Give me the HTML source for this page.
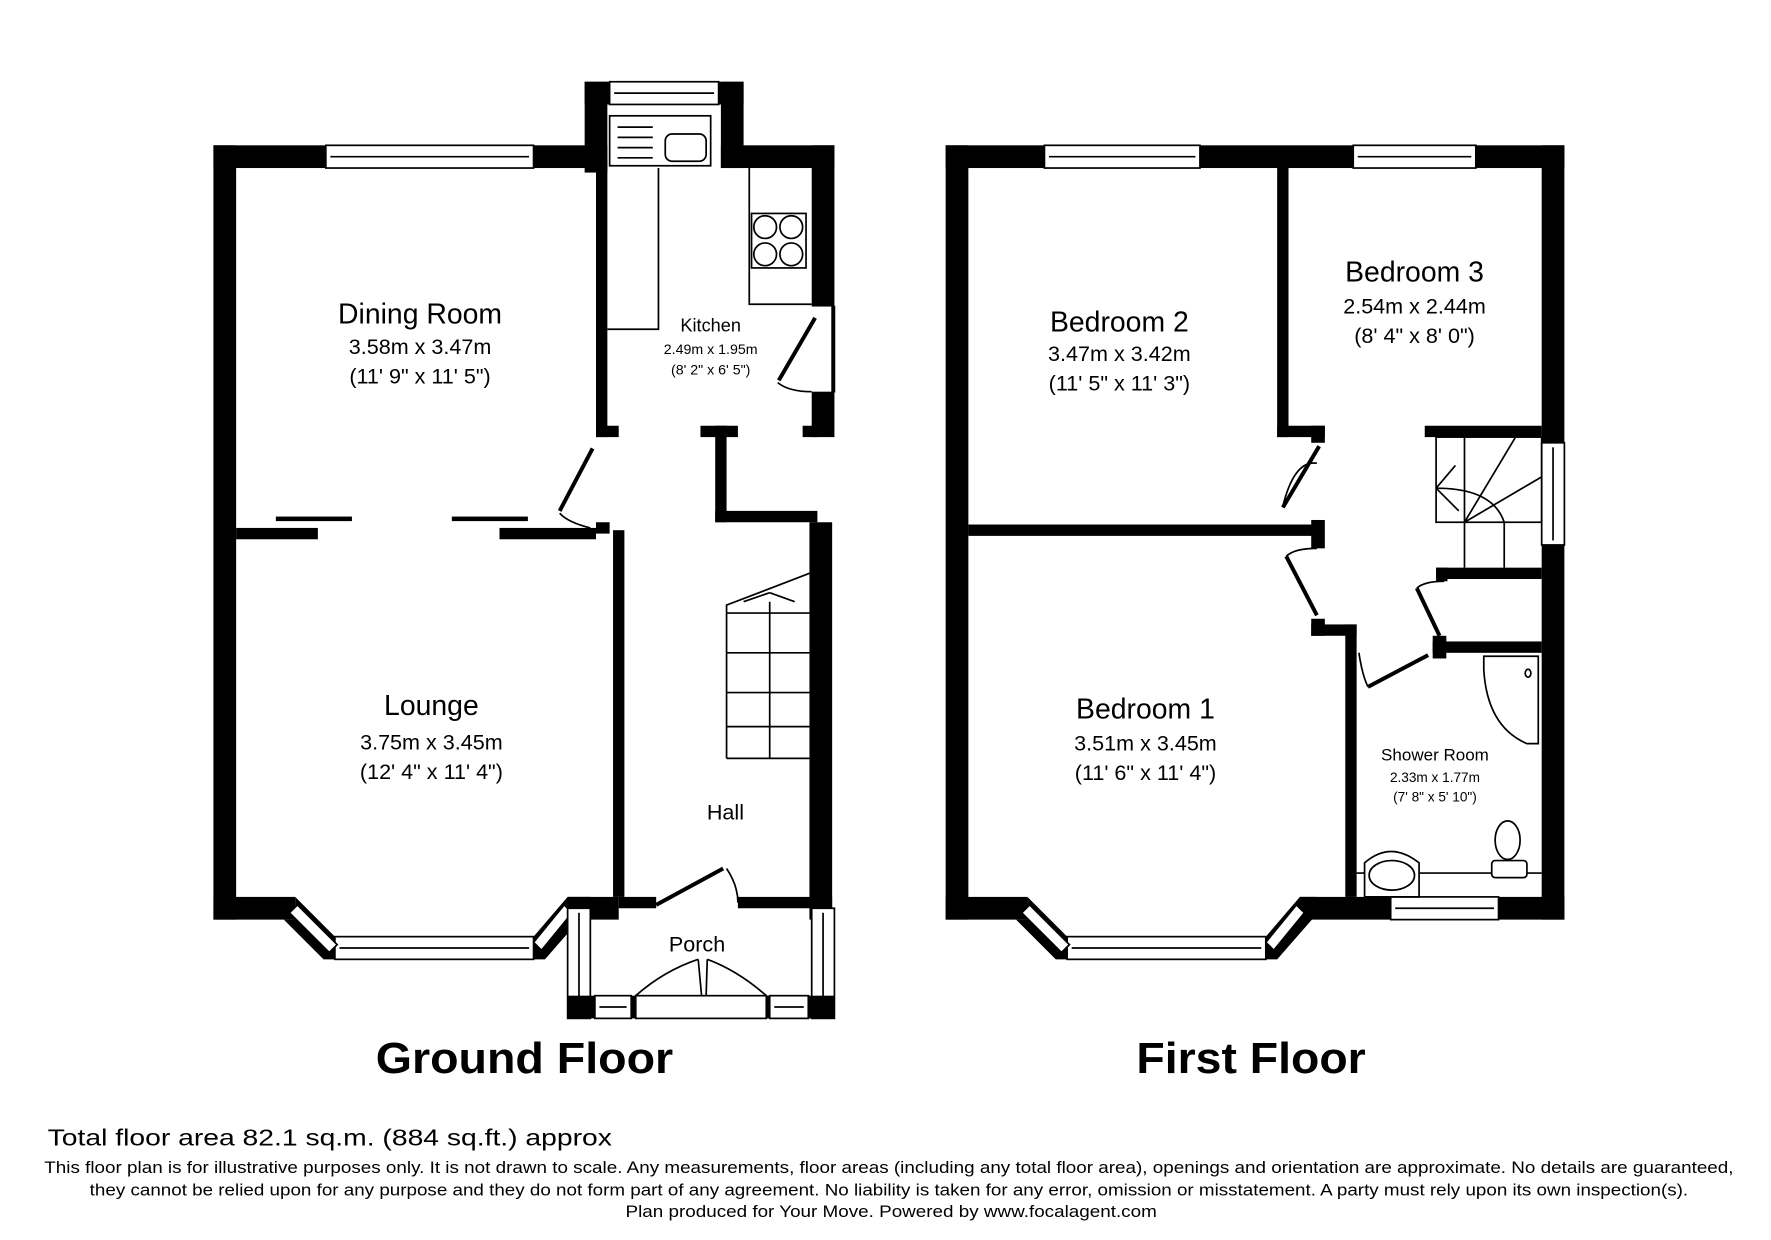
<!DOCTYPE html>
<html><head><meta charset="utf-8"><style>
html,body{margin:0;padding:0;background:#fff;}
svg{display:block;}
text{font-family:"Liberation Sans",sans-serif;fill:#000;}
</style></head><body>
<svg width="1771" height="1240" viewBox="0 0 1560 1092.2" preserveAspectRatio="none" xmlns="http://www.w3.org/2000/svg">
<rect width="1560" height="1092.2" fill="#fff"/>
<g fill="#000" stroke="none">
<!-- GROUND FLOOR walls -->
<rect x="188" y="128" width="20" height="682"/>
<rect x="188" y="128" width="347" height="20"/>
<rect x="515" y="72" width="20" height="80"/>
<rect x="515" y="72" width="140" height="20"/>
<rect x="635" y="72" width="20" height="76"/>
<rect x="635" y="128" width="100" height="20"/>
<rect x="715" y="128" width="20" height="142"/>
<rect x="715" y="345" width="20" height="40"/>
<rect x="713" y="460" width="20" height="350"/>
<rect x="525" y="140" width="10" height="245"/>
<rect x="525" y="375" width="20" height="10"/>
<rect x="617" y="375" width="33" height="10"/>
<rect x="630" y="375" width="10" height="85"/>
<rect x="630" y="450" width="90" height="10"/>
<rect x="707" y="375" width="13" height="10"/>
<rect x="208" y="465" width="72" height="10"/>
<rect x="440" y="465" width="85" height="10"/>
<rect x="525" y="460" width="12" height="10"/>
<rect x="540" y="467" width="10" height="323"/>
<rect x="188" y="790" width="72" height="20"/>
<rect x="500" y="790" width="45" height="20"/>
<rect x="545" y="790" width="33" height="10"/>
<rect x="650" y="790" width="83" height="10"/>
<rect x="243" y="455" width="67" height="4"/>
<rect x="398" y="455" width="67" height="4"/>
<!-- FIRST FLOOR walls -->
<rect x="833" y="128" width="20" height="682"/>
<rect x="833" y="128" width="545" height="20"/>
<rect x="1358" y="128" width="20" height="682"/>
<rect x="1125" y="140" width="10" height="245"/>
<rect x="1125" y="375" width="42" height="10"/>
<rect x="1155" y="375" width="12" height="15"/>
<rect x="1255" y="375" width="103" height="10"/>
<rect x="853" y="462" width="312" height="10"/>
<rect x="1155" y="458" width="12" height="25"/>
<rect x="1155" y="545" width="12" height="15"/>
<rect x="1155" y="550" width="40" height="10"/>
<rect x="1185" y="550" width="10" height="240"/>
<rect x="1265" y="500" width="93" height="10"/>
<rect x="1262" y="565" width="96" height="10"/>
<rect x="1262" y="560" width="12" height="20"/>
<rect x="1265" y="500" width="10" height="12"/>
<rect x="833" y="790" width="72" height="20"/>
<rect x="1145" y="790" width="233" height="20"/>
</g>
<!-- bays -->
<g fill="#000">
<polygon points="260,790 295,825 295,845 285,845 250,810 260,810"/>
<polygon points="500,790 470,825 470,845 480,845 515,805 520,790"/>
<polygon points="905,790 940,825 940,845 930,845 895,810 905,810"/>
<polygon points="1145,790 1115,825 1115,845 1125,845 1160,805 1160,790"/>
</g>
<g fill="#fff" stroke="#000" stroke-width="1.5">
<!-- windows -->
<rect x="287" y="128" width="183" height="20"/><line x1="291" y1="138" x2="466" y2="138"/>
<rect x="537" y="72" width="96" height="20"/><line x1="541" y1="82" x2="629" y2="82"/>
<rect x="295" y="825" width="175" height="20"/><line x1="299" y1="835" x2="466" y2="835"/>
<polygon points="262,797 297,832 290,839 255,804"/>
<polygon points="497,797 470,830 477,837 504,804"/>
<rect x="920" y="128" width="137" height="20"/><line x1="924" y1="138" x2="1053" y2="138"/>
<rect x="1192" y="128" width="108" height="20"/><line x1="1196" y1="138" x2="1296" y2="138"/>
<rect x="940" y="825" width="175" height="20"/><line x1="944" y1="835" x2="1111" y2="835"/>
<polygon points="907,797 942,832 935,839 900,804"/>
<polygon points="1142,797 1115,830 1122,837 1149,804"/>
<rect x="1358" y="390" width="20" height="90"/><line x1="1368" y1="394" x2="1368" y2="476"/>
<rect x="1225" y="790" width="95" height="20"/><line x1="1229" y1="800" x2="1316" y2="800"/>
<!-- porch -->
<rect x="500" y="800" width="20" height="97"/><line x1="510" y1="804" x2="510" y2="893"/>
<rect x="715" y="800" width="20" height="97"/><line x1="725" y1="804" x2="725" y2="893"/>
</g>
<g fill="#000">
<rect x="500" y="877" width="235" height="20"/>
</g>
<g fill="#fff" stroke="#000" stroke-width="1.5">
<rect x="524" y="877" width="32" height="20"/><line x1="528" y1="887" x2="552" y2="887"/>
<rect x="678" y="877" width="34" height="20"/><line x1="682" y1="887" x2="708" y2="887"/>
<rect x="560" y="877" width="115" height="20"/>
<rect x="733" y="270" width="2" height="75" fill="#000"/>
</g>
<g fill="none" stroke="#000" stroke-width="1.5">
<!-- kitchen fittings -->
<rect x="537" y="102" width="89" height="44" fill="#fff"/>
<line x1="544" y1="112" x2="575" y2="112"/><line x1="544" y1="121" x2="575" y2="121"/><line x1="544" y1="130" x2="575" y2="130"/><line x1="544" y1="139" x2="575" y2="139"/>
<rect x="586" y="118" width="36" height="24" rx="6"/>
<polyline points="535,290 580,290 580,148"/>
<polyline points="660,148 660,268 715,268"/>
<rect x="662" y="188" width="48" height="48"/>
<circle cx="674" cy="200" r="10"/><circle cx="697" cy="200" r="10"/><circle cx="674" cy="224" r="10"/><circle cx="697" cy="224" r="10"/>
<!-- stairs GF -->
<polyline points="640,668 640,533 713,505"/>
<line x1="640" y1="540" x2="713" y2="540"/><line x1="640" y1="575" x2="713" y2="575"/><line x1="640" y1="610" x2="713" y2="610"/><line x1="640" y1="640" x2="713" y2="640"/><line x1="640" y1="668" x2="713" y2="668"/>
<line x1="678" y1="530" x2="678" y2="668"/>
<line x1="655" y1="530" x2="678" y2="522"/><line x1="678" y1="522" x2="700" y2="530"/>
<!-- door arcs -->
<path d="M520 465 Q500 460 493 452"/>
<path d="M715 345 Q695 345 685 337"/>
<path d="M640 765 Q650 780 650 795"/>
<path d="M560 877 Q585 855 615 845"/><path d="M675 877 Q650 855 623 845"/>
<line x1="615" y1="845" x2="618" y2="877"/><line x1="623" y1="845" x2="622" y2="877"/>
<!-- FF stairs -->
<rect x="1265" y="385" width="93" height="75"/>
<line x1="1290" y1="385" x2="1290" y2="500"/><line x1="1325" y1="460" x2="1325" y2="500"/>
<line x1="1290" y1="460" x2="1335" y2="385"/><line x1="1290" y1="460" x2="1358" y2="420"/>
<path d="M1265 430 Q1315 430 1325 460"/>
<line x1="1265" y1="430" x2="1285" y2="450"/><line x1="1265" y1="430" x2="1282" y2="410"/>
<!-- shower room -->
<path d="M1307 578 L1355 578 L1355 655 L1345 655 Q1310 640 1307 590 Z" fill="#fff"/>
<ellipse cx="1346" cy="593" rx="2.5" ry="3.5"/>
<line x1="1195" y1="769" x2="1358" y2="769"/>
<ellipse cx="1328" cy="740" rx="11" ry="17"/>
<rect x="1314" y="758" width="31" height="15" rx="3" fill="#fff"/>
<path d="M1202 790 L1202 760 Q1225 740 1250 760 L1250 790 Z" fill="#fff"/>
<ellipse cx="1226" cy="771" rx="20" ry="13"/>
<path d="M1197 575 Q1200 595 1205 605"/>
<path d="M1272 512 Q1255 512 1248 518"/>
<path d="M1160 408 Q1140 405 1130 446"/>
<path d="M1160 483 Q1140 483 1133 490"/>
</g>
<g stroke="#000" stroke-width="3.5" fill="none">
<line x1="522" y1="395" x2="493" y2="450"/>
<line x1="718" y1="280" x2="686" y2="335"/>
<line x1="578" y1="797" x2="637" y2="765"/>
<line x1="1162" y1="393" x2="1130" y2="447"/>
<line x1="1133" y1="490" x2="1160" y2="542"/>
<line x1="1205" y1="605" x2="1258" y2="577"/>
<line x1="1248" y1="518" x2="1268" y2="560"/>
</g>
<!-- labels -->
<g text-anchor="middle">
<text x="370" y="285" font-size="25">Dining Room</text>
<text x="370" y="312" font-size="19">3.58m x 3.47m</text>
<text x="370" y="338" font-size="19">(11' 9" x 11' 5")</text>
<text x="626" y="292" font-size="16">Kitchen</text>
<text x="626" y="312" font-size="12.5">2.49m x 1.95m</text>
<text x="626" y="330" font-size="12.5">(8' 2" x 6' 5")</text>
<text x="380" y="630" font-size="25">Lounge</text>
<text x="380" y="660" font-size="19">3.75m x 3.45m</text>
<text x="380" y="686" font-size="19">(12' 4" x 11' 4")</text>
<text x="639" y="722" font-size="19">Hall</text>
<text x="614" y="838" font-size="19">Porch</text>
<text x="986" y="292" font-size="25">Bedroom 2</text>
<text x="986" y="318" font-size="19">3.47m x 3.42m</text>
<text x="986" y="344" font-size="19">(11' 5" x 11' 3")</text>
<text x="1246" y="248" font-size="25">Bedroom 3</text>
<text x="1246" y="276" font-size="19">2.54m x 2.44m</text>
<text x="1246" y="302" font-size="19">(8' 4" x 8' 0")</text>
<text x="1009" y="633" font-size="25">Bedroom 1</text>
<text x="1009" y="661" font-size="19">3.51m x 3.45m</text>
<text x="1009" y="687" font-size="19">(11' 6" x 11' 4")</text>
<text x="1264" y="670" font-size="15">Shower Room</text>
<text x="1264" y="689" font-size="12">2.33m x 1.77m</text>
<text x="1264" y="706" font-size="12">(7' 8" x 5' 10")</text>
<text x="462" y="945" font-size="38" font-weight="bold" textLength="262" lengthAdjust="spacingAndGlyphs">Ground Floor</text>
<text x="1102" y="945" font-size="38" font-weight="bold" textLength="202" lengthAdjust="spacingAndGlyphs">First Floor</text>
<text x="783" y="1033" font-size="14.5" textLength="1488" lengthAdjust="spacingAndGlyphs">This floor plan is for illustrative purposes only. It is not drawn to scale. Any measurements, floor areas (including any total floor area), openings and orientation are approximate. No details are guaranteed,</text>
<text x="783" y="1053" font-size="14.5" textLength="1408" lengthAdjust="spacingAndGlyphs">they cannot be relied upon for any purpose and they do not form part of any agreement. No liability is taken for any error, omission or misstatement. A party must rely upon its own inspection(s).</text>
<text x="785" y="1072" font-size="14.5" textLength="468" lengthAdjust="spacingAndGlyphs">Plan produced for Your Move. Powered by www.focalagent.com</text>
</g>
<text x="42" y="1009" font-size="20" textLength="497" lengthAdjust="spacingAndGlyphs">Total floor area 82.1 sq.m. (884 sq.ft.) approx</text>
</svg>
</body></html>
